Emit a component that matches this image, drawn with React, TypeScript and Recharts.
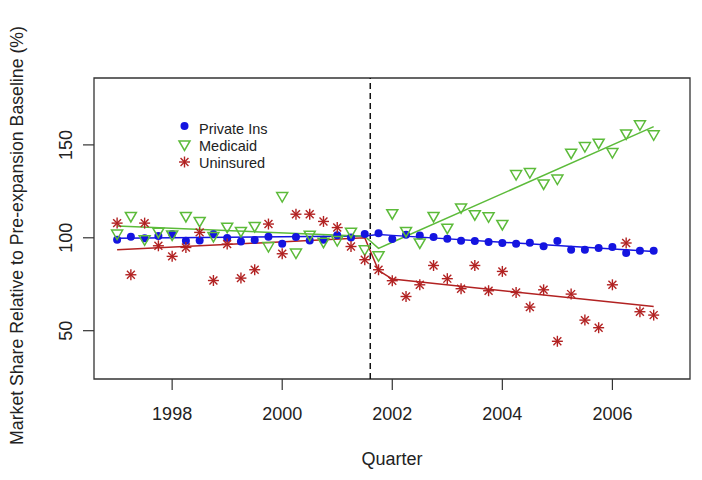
import React from "react";
import {
  ComposedChart,
  Scatter,
  Line,
  XAxis,
  YAxis,
  ReferenceLine,
  ReferenceArea,
  Legend,
  Label,
} from "recharts";

// quarterly observations, 1997 Q1 .. 2006 Q4
const quarters = [
  1997, 1997.25, 1997.5, 1997.75, 1998, 1998.25, 1998.5, 1998.75,
  1999, 1999.25, 1999.5, 1999.75, 2000, 2000.25, 2000.5, 2000.75,
  2001, 2001.25, 2001.5, 2001.75, 2002, 2002.25, 2002.5, 2002.75,
  2003, 2003.25, 2003.5, 2003.75, 2004, 2004.25, 2004.5, 2004.75,
  2005, 2005.25, 2005.5, 2005.75, 2006, 2006.25, 2006.5, 2006.75,
];

const privateIns = [
  98.9, 100.6, 99.8, 100.9, 102.1, 98.4, 98.5, 101.9, 99.9, 98.0,
  98.8, 100.5, 96.8, 100.4, 98.5, 98.9, 101.4, 100.1, 102.1, 102.4,
  99.3, 101.7, 101.2, 100.4, 99.5, 98.4, 98.3, 97.8, 97.2, 96.8,
  97.3, 95.5, 98.3, 93.6, 93.6, 94.5, 95.1, 91.8, 93.0, 93.0,
];

const medicaid = [
  102.0, 111.5, 98.9, 103.0, 101.5, 111.5, 108.8, 100.7, 105.7, 103.4,
  106.1, 95.3, 122.2, 91.8, 101.4, 97.6, 98.5, 103.0, 93.5, 90.3,
  113.0, 103.4, 97.2, 111.5, 105.2, 116.1, 112.4, 111.3, 107.2, 134.0,
  135.1, 129.0, 131.6, 145.5, 149.1, 150.9, 145.9, 155.9, 160.8, 155.4,
];

const uninsured = [
  107.9, 80.1, 107.9, 95.7, 90.0, 94.8, 102.9, 77.0, 96.6, 78.3,
  82.8, 107.4, 91.4, 112.7, 112.7, 108.8, 105.5, 95.3, 88.2, 82.8,
  76.9, 68.4, 74.7, 85.1, 78.0, 72.6, 85.1, 71.5, 81.9, 70.6,
  62.7, 72.0, 44.3, 69.7, 55.7, 51.6, 74.7, 97.2, 60.2, 58.4,
];

// segmented fit (pre / post expansion), read at the break points
const fitQuarters = [1997, 2001.5, 2001.75, 2002, 2006.75];
const privateFit = [99.8, 101.0, 101.8, 101.3, 92.6];
const medicaidFit = [106.4, 100.8, 94.3, 97.6, 159.8];
const uninsuredFit = [93.5, 100.0, 82.4, 77.8, 63.0];

const expansionQuarter = 2001.6;
const xTicks = [1998, 2000, 2002, 2004, 2006];
const yTicks = [50, 100, 150];
const xDomain = [1996.58, 2007.41];
const yDomain = [24, 186];

const FONT = "'Liberation Sans', Arial, Helvetica, sans-serif";
const INK = "#222";
const BLUE = "#1414e0";
const GREEN = "#5cbb3a";
const RED = "#b22222";

const toPoints = (xs: number[], ys: number[]) =>
  xs.map((x, i) => ({ x, y: ys[i] }));

const Dot = ({ cx, cy }: any) => <circle cx={cx} cy={cy} r={4} fill={BLUE} />;

const Tri = ({ cx, cy }: any) => (
  <polygon
    points={`${cx - 5.5},${cy - 4} ${cx + 5.5},${cy - 4} ${cx},${cy + 5.5}`}
    fill="none"
    stroke={GREEN}
    strokeWidth={1.5}
  />
);

const Star = ({ cx, cy }: any) => {
  const r = 5.5;
  const d = r * 0.72;
  return (
    <g stroke={RED} strokeWidth={1.4}>
      <line x1={cx - r} y1={cy} x2={cx + r} y2={cy} />
      <line x1={cx} y1={cy - r} x2={cx} y2={cy + r} />
      <line x1={cx - d} y1={cy - d} x2={cx + d} y2={cy + d} />
      <line x1={cx - d} y1={cy + d} x2={cx + d} y2={cy - d} />
    </g>
  );
};

const YTick = ({ x, y, payload }: any) => (
  <text
    transform={`translate(${x - 11},${y}) rotate(-90)`}
    textAnchor="middle"
    fontSize={18}
    fontFamily={FONT}
    fill={INK}
  >
    {payload.value}
  </text>
);

const LegendBox = () => {
  const rows = [
    { label: "Private Ins", shape: <Dot cx={8.5} cy={10} /> },
    { label: "Medicaid", shape: <Tri cx={8.5} cy={29} /> },
    { label: "Uninsured", shape: <Star cx={8.5} cy={46} /> },
  ];
  return (
    <svg width={120} height={60}>
      {rows.map((r, i) => (
        <g key={r.label}>
          {r.shape}
          <text
            x={23}
            y={18 + i * 16.9}
            fontSize={14.5}
            fontFamily={FONT}
            fill={INK}
          >
            {r.label}
          </text>
        </g>
      ))}
    </svg>
  );
};

export default function App() {
  return (
    <div
      style={{
        position: "absolute",
        left: 0,
        top: 0,
        width: 702,
        height: 480,
        background: "#fff",
      }}
    >
      <ComposedChart
        width={702}
        height={480}
        margin={{ top: 78, right: 12, bottom: 0, left: 0 }}
      >
        <XAxis
          dataKey="x"
          type="number"
          domain={xDomain}
          ticks={xTicks}
          allowDataOverflow
          axisLine={false}
          tickSize={11}
          tickMargin={17}
          tickLine={{ stroke: "#333", strokeWidth: 1.2 }}
          tick={{ fontSize: 18, fill: INK, fontFamily: FONT }}
          height={101}
        >
          <Label
            content={({ viewBox }: any) => (
              <text
                x={viewBox.x + viewBox.width / 2}
                y={465}
                textAnchor="middle"
                fontSize={18}
                fontFamily={FONT}
                fill={INK}
              >
                Quarter
              </text>
            )}
          />
        </XAxis>
        <YAxis
          type="number"
          domain={yDomain}
          ticks={yTicks}
          allowDataOverflow
          axisLine={false}
          tickSize={11}
          tickMargin={0}
          tickLine={{ stroke: "#333", strokeWidth: 1.2 }}
          tick={<YTick />}
          width={94}
        >
          <Label
            content={({ viewBox }: any) => (
              <text
                transform={`translate(22.5,${viewBox.y + viewBox.height / 2 + 7}) rotate(-90)`}
                textAnchor="middle"
                fontSize={17.7}
                fontFamily={FONT}
                fill={INK}
              >
                Market Share Relative to Pre-expansion Baseline (%)
              </text>
            )}
          />
        </YAxis>
        <ReferenceArea
          x1={xDomain[0]}
          x2={xDomain[1]}
          y1={yDomain[0]}
          y2={yDomain[1]}
          fill="none"
          stroke="#333"
          strokeWidth={1.3}
        />
        <ReferenceLine
          x={expansionQuarter}
          stroke="#111"
          strokeWidth={1.5}
          strokeDasharray="6 4"
        />
        <Line
          data={toPoints(fitQuarters, privateFit)}
          dataKey="y"
          type="linear"
          stroke={BLUE}
          strokeWidth={1.5}
          dot={false}
          activeDot={false}
          isAnimationActive={false}
        />
        <Line
          data={toPoints(fitQuarters, medicaidFit)}
          dataKey="y"
          type="linear"
          stroke={GREEN}
          strokeWidth={1.5}
          dot={false}
          activeDot={false}
          isAnimationActive={false}
        />
        <Line
          data={toPoints(fitQuarters, uninsuredFit)}
          dataKey="y"
          type="linear"
          stroke={RED}
          strokeWidth={1.5}
          dot={false}
          activeDot={false}
          isAnimationActive={false}
        />
        <Scatter
          data={toPoints(quarters, privateIns)}
          dataKey="y"
          shape={<Dot />}
          isAnimationActive={false}
        />
        <Scatter
          data={toPoints(quarters, medicaid)}
          dataKey="y"
          shape={<Tri />}
          isAnimationActive={false}
        />
        <Scatter
          data={toPoints(quarters, uninsured)}
          dataKey="y"
          shape={<Star />}
          isAnimationActive={false}
        />
        <Legend
          layout="horizontal"
          verticalAlign="middle"
          align="center"
          wrapperStyle={{ left: 176, top: 116, width: 120, height: 60 }}
          content={() => <LegendBox />}
        />
      </ComposedChart>
    </div>
  );
}
